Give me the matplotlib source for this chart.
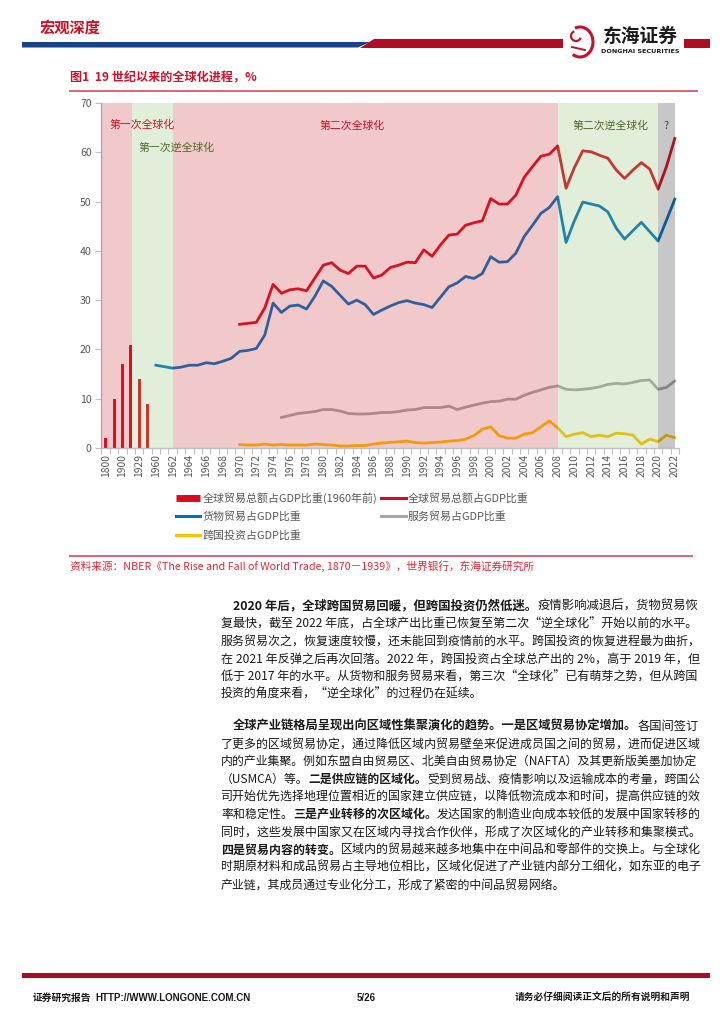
import numpy as np
import matplotlib
matplotlib.use('Agg')
import matplotlib.pyplot as plt
from matplotlib.patches import Polygon, Rectangle, Arc
from matplotlib.lines import Line2D

plt.rcParams['font.family'] = ['Noto Sans CJK SC', 'DejaVu Sans']

# ---- data ----
early_years = ['1800', '1870', '1900', '1913', '1929', '1938']
late_years = [str(y) for y in range(1960, 2023)]
categories = early_years + late_years

# 全球贸易总额占GDP比重(1960年前)
trade_early = [2, 10, 17, 21, 14, 9]

# 货物贸易占GDP比重 1960-2022
goods_start = '1960'
goods = [16.8, 16.5, 16.2, 16.4, 16.8, 16.8, 17.3, 17.1, 17.6, 18.2,
         19.6, 19.8, 20.2, 22.9, 29.4, 27.5, 28.8, 29.0, 28.2, 30.8,
         33.9, 32.8, 31.0, 29.2, 30.0, 29.1, 27.1, 28.0, 28.8, 29.5,
         29.9, 29.4, 29.1, 28.5, 30.6, 32.7, 33.5, 34.8, 34.4, 35.4,
         38.8, 37.7, 37.8, 39.5, 42.9, 45.2, 47.6, 48.8, 51.0, 41.7,
         46.1, 49.9, 49.5, 49.1, 47.9, 44.6, 42.4, 44.1, 45.8, 43.9,
         42.0, 46.2, 50.5]

# 全球贸易总额占GDP比重 1970-2022
total_start = '1970'
total = [25.1, 25.3, 25.5, 28.4, 33.2, 31.4, 32.1, 32.3, 31.9, 34.5,
         37.1, 37.6, 36.1, 35.4, 36.9, 36.9, 34.5, 35.1, 36.6, 37.1,
         37.7, 37.6, 40.2, 38.9, 41.2, 43.2, 43.4, 45.2, 45.7, 46.1,
         50.6, 49.5, 49.5, 51.3, 54.9, 57.1, 59.2, 59.6, 61.3, 52.7,
         56.9, 60.3, 60.1, 59.4, 58.8, 56.4, 54.7, 56.4, 57.9, 56.6,
         52.5, 57.1, 62.8]

# 服务贸易占GDP比重 1975-2022
services_start = '1975'
services = [6.2, 6.6, 7.0, 7.2, 7.4, 7.8, 7.8, 7.5, 7.0, 6.9,
            6.9, 7.0, 7.2, 7.2, 7.4, 7.7, 7.8, 8.2, 8.2, 8.2,
            8.5, 7.8, 8.3, 8.7, 9.1, 9.4, 9.5, 9.9, 9.9, 10.7,
            11.3, 11.8, 12.3, 12.6, 11.9, 11.8, 11.9, 12.1, 12.4, 12.9,
            13.1, 13.0, 13.3, 13.7, 13.8, 11.9, 12.3, 13.6]

# 跨国投资占GDP比重 1970-2022
fdi_start = '1970'
fdi = [0.7, 0.6, 0.6, 0.8, 0.6, 0.7, 0.6, 0.6, 0.6, 0.8,
       0.7, 0.6, 0.4, 0.4, 0.5, 0.5, 0.8, 1.0, 1.15, 1.25,
       1.4, 1.1, 1.0, 1.1, 1.2, 1.4, 1.5, 1.8, 2.5, 3.8,
       4.3, 2.5, 2.0, 2.0, 2.8, 3.1, 4.3, 5.5, 4.1, 2.3,
       2.8, 3.1, 2.3, 2.6, 2.3, 3.0, 2.9, 2.6, 0.8, 1.8,
       1.3, 2.6, 2.1]

# 阶段划分 (起止年份)
phases = [('1800', '1913', '第一次全球化'),
          ('1913', '1962', '第一次逆全球化'),
          ('1962', '2008', '第二次全球化'),
          ('2008', '2020', '第二次逆全球化'),
          ('2020', '2022', '?')]

RED = '#dc0a1e'
BLUE = '#0070c0'
GRAY = '#a6a6a6'
GOLD = '#ffc000'


def idx(label):
    return categories.index(label)


def series_x(start, values):
    return np.arange(len(values)) + idx(start)


W, H = 724, 1024
fig = plt.figure(figsize=(W / 100, H / 100), dpi=100)
fig.patch.set_facecolor('white')

# page layer in pixel coordinates
page = fig.add_axes([0, 0, 1, 1])
page.set_xlim(0, W)
page.set_ylim(H, 0)
page.axis('off')

# ---- header ----
page.add_patch(Polygon([(22, 42), (370, 42), (358, 47.5), (22, 47.5)],
                       closed=True, color='#17438a', lw=0))
page.add_patch(Polygon([(374, 38.5), (563, 38.5), (563, 47.5), (360, 47.5)],
                       closed=True, color='#b00d24', lw=0))
page.add_patch(Rectangle((684, 38.5), 26, 9, color='#b00d24', lw=0))
page.text(40, 28, '宏观深度', fontsize=11, fontweight='bold', color='#cc1028',
          va='center', ha='left')
# logo
page.add_patch(Arc((580, 42), 26, 30, theta1=-110, theta2=120, color='#c8102e', lw=2.2))
page.add_patch(Arc((576, 36), 10, 10, theta1=20, theta2=250, color='#c8102e', lw=1.6))
page.plot([572, 585], [47, 50], color='#c8102e', lw=1.4)
page.text(640, 36, '东海证券', fontsize=13.5, fontweight='bold', color='#1a1a1a',
          va='center', ha='center')
page.text(640, 51.5, 'DONGHAI SECURITIES', fontsize=4.6, fontweight='bold',
          color='#1a1a1a', va='center', ha='center', family=['DejaVu Sans'])

# ---- figure title ----
page.text(70, 78, '图1  19 世纪以来的全球化进程，%', fontsize=8.7, fontweight='bold',
          color='#d0102a', va='center', ha='left')
page.plot([70, 697], [91, 91], color='#e2556a', lw=1.3)

# ---- chart ----
ax = fig.add_axes([101.5 / W, 1 - 448 / H, 577.5 / W, 345 / H])
ax.set_facecolor('white')

ax.bar(np.arange(len(trade_early)), trade_early, width=0.36, color=RED, zorder=2)
ax.plot(series_x(goods_start, goods), goods, color=BLUE, lw=2.0, zorder=2)
ax.plot(series_x(total_start, total), total, color=RED, lw=2.0, zorder=2)
ax.plot(series_x(services_start, services), services, color=GRAY, lw=2.0, zorder=2)
ax.plot(series_x(fdi_start, fdi), fdi, color=GOLD, lw=2.0, zorder=2)

# 阶段底色（半透明叠加在曲线之上）
shade = ['#cb2b33', '#8bbf6b', '#cb2b33', '#8bbf6b', '#232323']
edges = [-0.5, idx('1913') + 0.15, idx('1962'), idx('2008'), idx('2020'), idx('2022')]
for k in range(len(phases)):
    ax.axvspan(edges[k], edges[k + 1], color=shade[k], alpha=0.25, lw=0, zorder=3)

txt_red = '#d0102a'
txt_green = '#4f6a2e'
ax.text(0.5, 65.7, phases[0][2], color=txt_red, fontsize=7.8, va='center', ha='left', zorder=5)
ax.text(3.9, 60.9, phases[1][2], color=txt_green, fontsize=7.8, va='center', ha='left', zorder=5)
ax.text(25.6, 65.4, phases[2][2], color=txt_red, fontsize=7.8, va='center', ha='left', zorder=5)
ax.text(55.8, 65.4, phases[3][2], color=txt_green, fontsize=7.8, va='center', ha='left', zorder=5)
ax.text(67.0, 65.4, phases[4][2], color='#404040', fontsize=7.8, va='center', ha='center', zorder=5)

ax.set_xlim(-0.5, len(categories) - 0.5)
ax.set_ylim(0, 70)
ax.set_yticks(range(0, 71, 10))
ax.set_xticks(range(0, len(categories), 2))
ax.set_xticklabels(categories[::2], rotation=90)
ax.set_xticks(np.arange(-0.5, len(categories), 1), minor=True)
ax.tick_params(axis='x', which='major', length=0, pad=4, labelsize=7.4, labelcolor='#595959')
ax.tick_params(axis='x', which='minor', length=4, color='#bfbfbf', width=0.8)
ax.tick_params(axis='y', length=4, color='#bfbfbf', width=0.8, labelsize=7.6,
               labelcolor='#595959', pad=3)
for s in ['top', 'right']:
    ax.spines[s].set_visible(False)
for s in ['left', 'bottom']:
    ax.spines[s].set_color('#bfbfbf')
    ax.spines[s].set_linewidth(0.9)

handles = [Line2D([], [], color=RED, lw=5.0, solid_capstyle='butt'),
           Line2D([], [], color=BLUE, lw=2.2),
           Line2D([], [], color=GOLD, lw=2.2),
           Line2D([], [], color=RED, lw=2.2),
           Line2D([], [], color=GRAY, lw=2.2)]
labels = ['全球贸易总额占GDP比重(1960年前)', '货物贸易占GDP比重', '跨国投资占GDP比重',
          '全球贸易总额占GDP比重', '服务贸易占GDP比重']
fig.legend(handles, labels, loc='upper left', bbox_to_anchor=(176 / W, 1 - 492 / H),
           ncol=2, frameon=False, fontsize=7.9, handlelength=2.2, handletextpad=0.2,
           columnspacing=0.4, labelspacing=0.72, borderpad=0, borderaxespad=0,
           labelcolor='#595959')

# ---- source ----
page.plot([70, 692], [556, 556], color='#e2556a', lw=1.3)
page.text(70, 566, '资料来源：NBER《The Rise and Fall of World Trade, 1870－1939》，世界银行，东海证券研究所',
          fontsize=7.7, color='#e0283c', va='center', ha='left')

# ---- body text ----
para1 = [
    [('2020 年后，全球跨国贸易回暖，但跨国投资仍然低迷。', True), ('疫情影响减退后，货物贸易恢', False)],
    [('复最快，截至 2022 年底，占全球产出比重已恢复至第二次“逆全球化”开始以前的水平。', False)],
    [('服务贸易次之，恢复速度较慢，还未能回到疫情前的水平。跨国投资的恢复进程最为曲折，', False)],
    [('在 2021 年反弹之后再次回落。2022 年，跨国投资占全球总产出的 2%，高于 2019 年，但', False)],
    [('低于 2017 年的水平。从货物和服务贸易来看，第三次“全球化”已有萌芽之势，但从跨国', False)],
    [('投资的角度来看，“逆全球化”的过程仍在延续。', False)],
]
para2 = [
    [('全球产业链格局呈现出向区域性集聚演化的趋势。一是区域贸易协定增加。', True), ('各国间签订', False)],
    [('了更多的区域贸易协定，通过降低区域内贸易壁垒来促进成员国之间的贸易，进而促进区域', False)],
    [('内的产业集聚。例如东盟自由贸易区、北美自由贸易协定（NAFTA）及其更新版美墨加协定', False)],
    [('（USMCA）等。', False), ('二是供应链的区域化。', True), ('受到贸易战、疫情影响以及运输成本的考量，跨国公', False)],
    [('司开始优先选择地理位置相近的国家建立供应链，以降低物流成本和时间，提高供应链的效', False)],
    [('率和稳定性。', False), ('三是产业转移的次区域化。', True), ('发达国家的制造业向成本较低的发展中国家转移的', False)],
    [('同时，这些发展中国家又在区域内寻找合作伙伴，形成了次区域化的产业转移和集聚模式。', False)],
    [('四是贸易内容的转变。', True), ('区域内的贸易越来越多地集中在中间品和零部件的交换上。与全球化', False)],
    [('时期原材料和成品贸易占主导地位相比，区域化促进了产业链内部分工细化，如东亚的电子', False)],
    [('产业链，其成员通过专业化分工，形成了紧密的中间品贸易网络。', False)],
]

renderer = fig.canvas.get_renderer()
inv = page.transData.inverted()
BODY_SIZE = 8.6
RIGHT = 697


def write_line(x, y, segments, size):
    items = []
    for s, bold in segments:
        t = page.text(x, y, s, fontsize=size, fontweight='bold' if bold else 'normal',
                      color='#1a1a1a', va='center', ha='left')
        bb = t.get_window_extent(renderer)
        x = inv.transform((bb.x1, bb.y0))[0]
        items.append(t)
    return items, x


def write_para(lines, top, step):
    for k, line in enumerate(lines):
        x0 = 233 if k == 0 else 221
        y = top + k * step
        items, x1 = write_line(x0, y, line, BODY_SIZE)
        if k < len(lines) - 1:
            # 两端对齐：按行微调字号
            scale = min(max((RIGHT - x0) / (x1 - x0), 0.93), 1.07)
            for t in items:
                t.remove()
            write_line(x0, y, line, BODY_SIZE * scale)


write_para(para1, 606, 17.7)
write_para(para2, 726, 17.7)

# ---- footer ----
page.add_patch(Rectangle((22, 973), 688, 5, color='#a80c22', lw=0))
page.text(33, 998, '证券研究报告', fontsize=7, fontweight='bold', color='#1a1a1a', va='center')
page.text(95, 998, 'HTTP://WWW.LONGONE.COM.CN', fontsize=7, fontweight='bold',
          color='#1a1a1a', va='center', family=['Liberation Sans', 'DejaVu Sans'])
page.text(366, 998, '5/26', fontsize=7, fontweight='bold', color='#1a1a1a', va='center',
          ha='center', family=['Liberation Sans', 'DejaVu Sans'])
page.text(690, 998, '请务必仔细阅读正文后的所有说明和声明', fontsize=7, fontweight='bold',
          color='#1a1a1a', va='center', ha='right')

fig.savefig('out.png', dpi=100, facecolor='white')
